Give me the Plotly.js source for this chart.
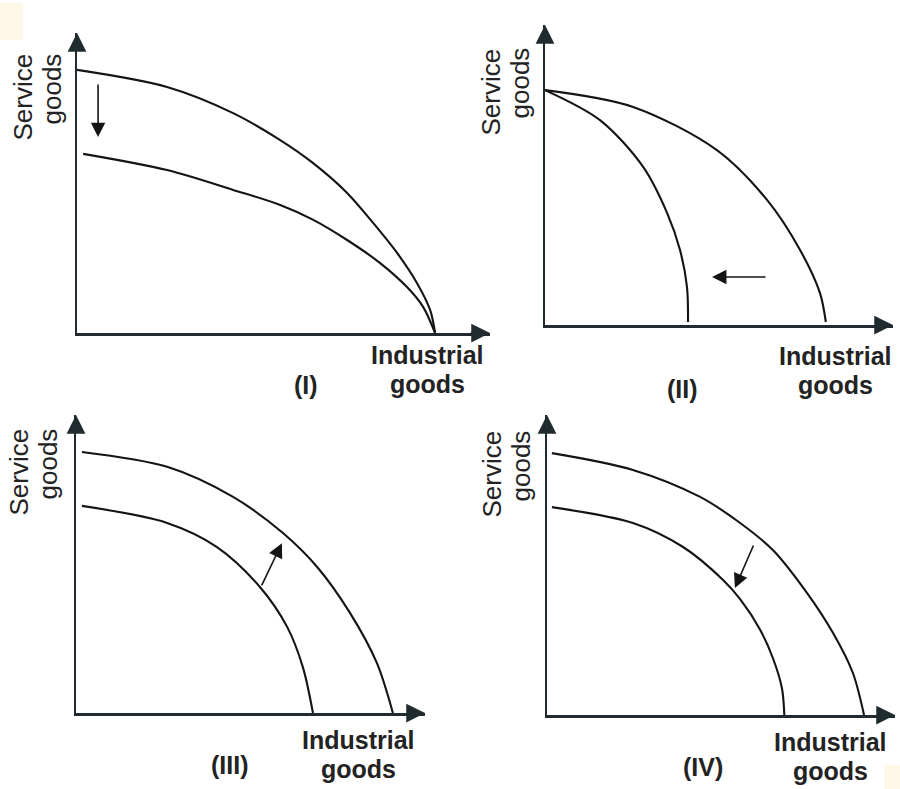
<!DOCTYPE html>
<html>
<head>
<meta charset="utf-8">
<script src="https://cdn.plot.ly/plotly-3.0.1.min.js"></script>
<style>html,body{margin:0;padding:0;background:#fff;}#chart{width:900px;height:789px;}</style>
</head>
<body>
<div id="chart"></div>
<script>
// ---- Data (arbitrary units, 0..10 on each axis) ----
const panelLabels = ["(I)", "(II)", "(III)", "(IV)"];
const yAxisLabelLines = ["Service", "goods"];
const xAxisLabelLines = ["Industrial", "goods"];

// Panel I : PPF pivots down (service goods fall)
const p1OuterX = [0, 2.18, 3.78, 4.92, 5.71, 6.54, 7.17, 7.75, 8.23, 8.55, 8.67];
const p1OuterY = [8.77, 8.2, 7.33, 6.43, 5.67, 4.67, 3.67, 2.67, 1.67, 0.77, 0];
const p1InnerX = [0.15, 2.18, 3.78, 4.92, 5.71, 6.54, 7.34, 7.99, 8.38, 8.67];
const p1InnerY = [5.97, 5.43, 4.77, 4.27, 3.78, 3.1, 2.33, 1.53, 0.87, 0];
const p1ArrowFrom = [0.51, 8.33];
const p1ArrowTo = [0.51, 6.53];

// Panel II : PPF pivots in (industrial goods fall)
const p2OuterX = [0, 2.53, 4.94, 6.38, 7.33, 7.9, 8.07];
const p2OuterY = [7.83, 7.27, 5.83, 4.17, 2.5, 1.07, 0.1];
const p2InnerX = [0, 1.58, 2.82, 3.51, 3.88, 4.08, 4.11];
const p2InnerY = [7.83, 6.83, 5.27, 3.73, 2.5, 1.27, 0.1];
const p2ArrowFrom = [6.38, 1.6];
const p2ArrowTo = [4.8, 1.6];

// Panel III : PPF shifts out
const p3OuterX = [0.17, 2.61, 4.5, 5.93, 6.91, 7.85, 8.62, 9.08];
const p3OuterY = [8.76, 8.26, 7.25, 6.04, 4.9, 3.36, 1.68, 0];
const p3InnerX = [0.17, 2.61, 4.04, 5.27, 6.05, 6.5, 6.79];
const p3InnerY = [6.95, 6.38, 5.57, 4.23, 2.89, 1.54, 0];
const p3ArrowFrom = [5.3, 4.23];
const p3ArrowTo = [5.9, 5.7];

// Panel IV : PPF shifts in
const p4OuterX = [0.14, 2.47, 4.4, 5.55, 6.49, 7.47, 8.22, 8.79, 9.11];
const p4OuterY = [8.73, 8.17, 7.27, 6.4, 5.5, 4.07, 2.73, 1.4, 0];
const p4InnerX = [0.14, 2.47, 3.91, 5.06, 5.55, 6.12, 6.49, 6.75, 6.82];
const p4InnerY = [6.93, 6.4, 5.6, 4.5, 3.86, 2.85, 1.9, 0.9, 0];
const p4ArrowFrom = [5.95, 5.7];
const p4ArrowTo = [5.4, 4.23];

// ---- Layout geometry (pixels) ----
const W = 900, H = 789;
// [left, right, top, bottom] of each panel's axes box (origin at left/bottom)
const boxes = [
  [77, 490, 33, 333],
  [545, 893, 25, 325],
  [76, 425, 415, 713],
  [547, 895, 415, 715]
];
// [x of "Service", x of "goods", top y]
const serviceLabelPos = [[23, 52, 53], [490, 519, 47], [18, 47, 428], [491, 520, 430]];
// [x center, y of "Industrial", y of "goods"]
const industrialLabelPos = [[427, 355, 384], [835, 356, 385], [358, 740, 769], [830, 742, 771]];
const numeralPos = [[306, 385], [682, 389], [230, 765], [703, 767]];

const curveColor = "#141414";
const axisColor = "#1f2b2f";
const textColor = "#232323";

const px = x => x / W;
const py = y => 1 - y / H;

const series = [
  [p1OuterX, p1OuterY, p1InnerX, p1InnerY, p1ArrowFrom, p1ArrowTo],
  [p2OuterX, p2OuterY, p2InnerX, p2InnerY, p2ArrowFrom, p2ArrowTo],
  [p3OuterX, p3OuterY, p3InnerX, p3InnerY, p3ArrowFrom, p3ArrowTo],
  [p4OuterX, p4OuterY, p4InnerX, p4InnerY, p4ArrowFrom, p4ArrowTo]
];

const traces = [];
const annotations = [];
const layout = {
  width: W, height: H,
  margin: {l: 0, r: 0, t: 0, b: 0},
  paper_bgcolor: "#ffffff",
  plot_bgcolor: "rgba(0,0,0,0)",
  showlegend: false,
  annotations: annotations,
  shapes: [
    {type: "rect", xref: "paper", yref: "paper", x0: 0, x1: px(23), y0: py(40), y1: py(3), fillcolor: "#fff8e9", line: {width: 0}, layer: "below"},
    {type: "rect", xref: "paper", yref: "paper", x0: px(884), x1: 1, y0: 0, y1: py(765), fillcolor: "#fff8e9", line: {width: 0}, layer: "below"}
  ]
};

const font = "Liberation Sans, Arial, sans-serif";

series.forEach((s, i) => {
  const n = i + 1;
  const xa = n === 1 ? "x" : "x" + n;
  const ya = n === 1 ? "y" : "y" + n;
  const b = boxes[i];
  const axCommon = {
    range: [0, 10], showgrid: false, zeroline: false, showticklabels: false,
    ticks: "", showline: true, linecolor: axisColor, linewidth: 2.5, fixedrange: true
  };
  layout[n === 1 ? "xaxis" : "xaxis" + n] = Object.assign({}, axCommon, {domain: [px(b[0]), px(b[1])], anchor: ya});
  layout[n === 1 ? "yaxis" : "yaxis" + n] = Object.assign({}, axCommon, {domain: [py(b[3]), py(b[2])], anchor: xa});

  [[s[0], s[1]], [s[2], s[3]]].forEach(c => {
    traces.push({
      type: "scatter", mode: "lines", x: c[0], y: c[1], xaxis: xa, yaxis: ya,
      line: {color: curveColor, width: 2.1, shape: "spline", smoothing: 0.9},
      hoverinfo: "skip", cliponaxis: false
    });
  });

  // shift arrow
  annotations.push({
    xref: xa, yref: ya, axref: xa, ayref: ya,
    x: s[5][0], y: s[5][1], ax: s[4][0], ay: s[4][1],
    showarrow: true, arrowhead: 2, arrowsize: 1.8, arrowwidth: 1.6, arrowcolor: curveColor, text: ""
  });
  // axis arrowheads
  annotations.push({
    xref: xa, yref: ya, axref: xa, ayref: ya,
    x: 10, y: 0, ax: 9.5, ay: 0,
    showarrow: true, arrowhead: 2, arrowsize: 1.5, arrowwidth: 2.5, arrowcolor: axisColor, text: ""
  });
  annotations.push({
    xref: xa, yref: ya, axref: xa, ayref: ya,
    x: 0, y: 10, ax: 0, ay: 9.5,
    showarrow: true, arrowhead: 2, arrowsize: 1.5, arrowwidth: 2.5, arrowcolor: axisColor, text: ""
  });

  // rotated y labels (two lines, ends aligned at top)
  yAxisLabelLines.forEach((t, k) => {
    annotations.push({
      xref: "paper", yref: "paper", x: px(serviceLabelPos[i][k]), y: py(serviceLabelPos[i][2]),
      text: t, showarrow: false, textangle: -90, borderpad: 0,
      xanchor: "center", yanchor: "top",
      font: {family: font, size: 26, color: textColor}
    });
  });
  // x labels (two centred bold lines)
  xAxisLabelLines.forEach((t, k) => {
    annotations.push({
      xref: "paper", yref: "paper", x: px(industrialLabelPos[i][0]), y: py(industrialLabelPos[i][k + 1]),
      text: "<b>" + t + "</b>", showarrow: false, borderpad: 0,
      xanchor: "center", yanchor: "middle",
      font: {family: font, size: 25, color: textColor}
    });
  });
  annotations.push({
    xref: "paper", yref: "paper", x: px(numeralPos[i][0]), y: py(numeralPos[i][1]),
    text: "<b>" + panelLabels[i] + "</b>", showarrow: false, borderpad: 0,
    xanchor: "center", yanchor: "middle",
    font: {family: font, size: 25, color: textColor}
  });
});

Plotly.newPlot("chart", traces, layout, {staticPlot: true, displayModeBar: false});
</script>
</body>
</html>
